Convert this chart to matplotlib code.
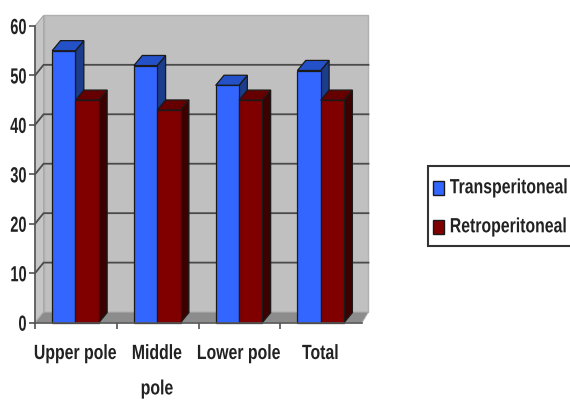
import matplotlib
matplotlib.use("Agg")
import matplotlib.pyplot as plt
from matplotlib.patches import Polygon, Patch, Rectangle
from matplotlib.patheffects import AbstractPathEffect
from matplotlib.transforms import Affine2D

categories = ["Upper pole", "Middle\npole", "Lower pole", "Total"]
transperitoneal = [55, 52, 48, 51]
retroperitoneal = [45, 43, 45, 45]
yticks = [0, 10, 20, 30, 40, 50, 60]

W, H = 570, 400
plt.rcParams['font.family'] = ['Liberation Sans', 'DejaVu Sans']


class TallText(AbstractPathEffect):
    # stretches glyphs vertically, around the baseline or around their middle
    def __init__(self, sy, middle=False):
        super().__init__()
        self.sy = sy
        self.middle = middle

    def draw_path(self, renderer, gc, tpath, affine, rgbFace=None):
        cy = 0
        if self.middle:
            ext = tpath.get_extents()
            cy = (ext.y0 + ext.y1) / 2
        stretch = Affine2D().translate(0, -cy).scale(1, self.sy).translate(0, cy)
        renderer.draw_path(gc, tpath, stretch + affine, rgbFace)


fig = plt.figure(figsize=(W / 100, H / 100), dpi=100)
ax = fig.add_axes([35 / W, (H - 322.7) / H, 327 / W, 296.7 / H])
ax.set_xlim(0, 4)
ax.set_ylim(0, 60)

# depth of the fake 3D projection, in data units
dx = 0.105
dy = 2.15
bar_w = 0.285
edge = '#1a1a1a'
text_color = '#222222'


def poly(pts, color, ec='none', lw=0.0, z=1):
    ax.add_patch(Polygon(pts, closed=True, fc=color, ec=ec, lw=lw, zorder=z,
                         clip_on=False, joinstyle='miter'))


def box(x0, w, h, front, top, side, z):
    d = bar_w * 0.36
    e = dy * 0.95
    poly([(x0 + w, 0), (x0 + w + d, e), (x0 + w + d, h + e), (x0 + w, h)], side, edge, 0.9, z)
    poly([(x0, h), (x0 + d, h + e), (x0 + w + d, h + e), (x0 + w, h)], top, edge, 0.9, z)
    poly([(x0, 0), (x0 + w, 0), (x0 + w, h), (x0, h)], front, edge, 0.9, z)


# walls and floor
poly([(dx, dy), (4 + dx * 0.75, dy), (4 + dx * 0.75, 60 + dy), (dx, 60 + dy)], '#c0c0c0', '#b0b0b0', 1.0)
poly([(0, 0), (dx, dy), (dx, 60 + dy), (0, 60)], '#c6c6c6', '#a8a8a8', 0.8)
poly([(0, 0), (4, 0), (4 + dx * 0.75, dy), (dx, dy)], '#8c8c8c', '#b0b0b0', 0.6)

# gridlines run up the side wall and across the back
for v in yticks[1:-1]:
    ax.plot([0, dx, 4 + dx * 0.75], [v, v + dy, v + dy], color='#4a4a4a', lw=1.3,
            zorder=2, clip_on=False, solid_joinstyle='miter')

for i in range(len(categories)):
    box(i + 0.21, bar_w, transperitoneal[i], '#3366ff', '#2450c8', '#1c3c8c', 3)
    box(i + 0.495, bar_w, retroperitoneal[i], '#800000', '#660000', '#3c0000', 4)

ax.set_facecolor('none')
for s in ['top', 'right']:
    ax.spines[s].set_visible(False)
for s in ['left', 'bottom']:
    ax.spines[s].set_color('#555555')
    ax.spines[s].set_linewidth(1.2)
    ax.spines[s].set_zorder(5)

ax.set_yticks(yticks)
ax.set_xticks(range(4))
ax.set_xticklabels([])
ax.tick_params(axis='both', length=4, width=1.1, color='#444444')
ax.tick_params(axis='y', pad=2, labelsize=10.5, labelcolor=text_color)

for t in ax.get_yticklabels():
    t.set_fontweight('bold')
    t.set_path_effects([TallText(1.5, middle=True)])

for i, label in enumerate(categories):
    ax.annotate(label, (i + 0.5, 0), xytext=(-0.5, -17.5), textcoords='offset points',
                ha='center', va='top', fontsize=11.4, fontweight='bold',
                color=text_color, linespacing=2.7, annotation_clip=False,
                path_effects=[TallText(1.3)])

# legend frame runs off the right edge of the figure
fig.add_artist(Rectangle((428 / W, (H - 246) / H), 150 / W, 80 / H, transform=fig.transFigure,
                         fc='white', ec='#333333', lw=1.5))
handles = [Patch(fc='#3366ff', ec='#1a1a1a', label='Transperitoneal'),
           Patch(fc='#800000', ec='#1a1a1a', label='Retroperitoneal')]
leg = fig.legend(handles=handles, loc='upper left', bbox_to_anchor=(433 / W, (H - 181) / H),
                 prop={'size': 11.4, 'weight': 'bold'}, frameon=False, borderaxespad=0,
                 borderpad=0, handlelength=0.68, handleheight=0.95, handletextpad=0.38,
                 labelspacing=1.5, labelcolor=text_color)
for t in leg.get_texts():
    t.set_path_effects([TallText(1.3, middle=False)])

fig.savefig('out.png', dpi=100)
